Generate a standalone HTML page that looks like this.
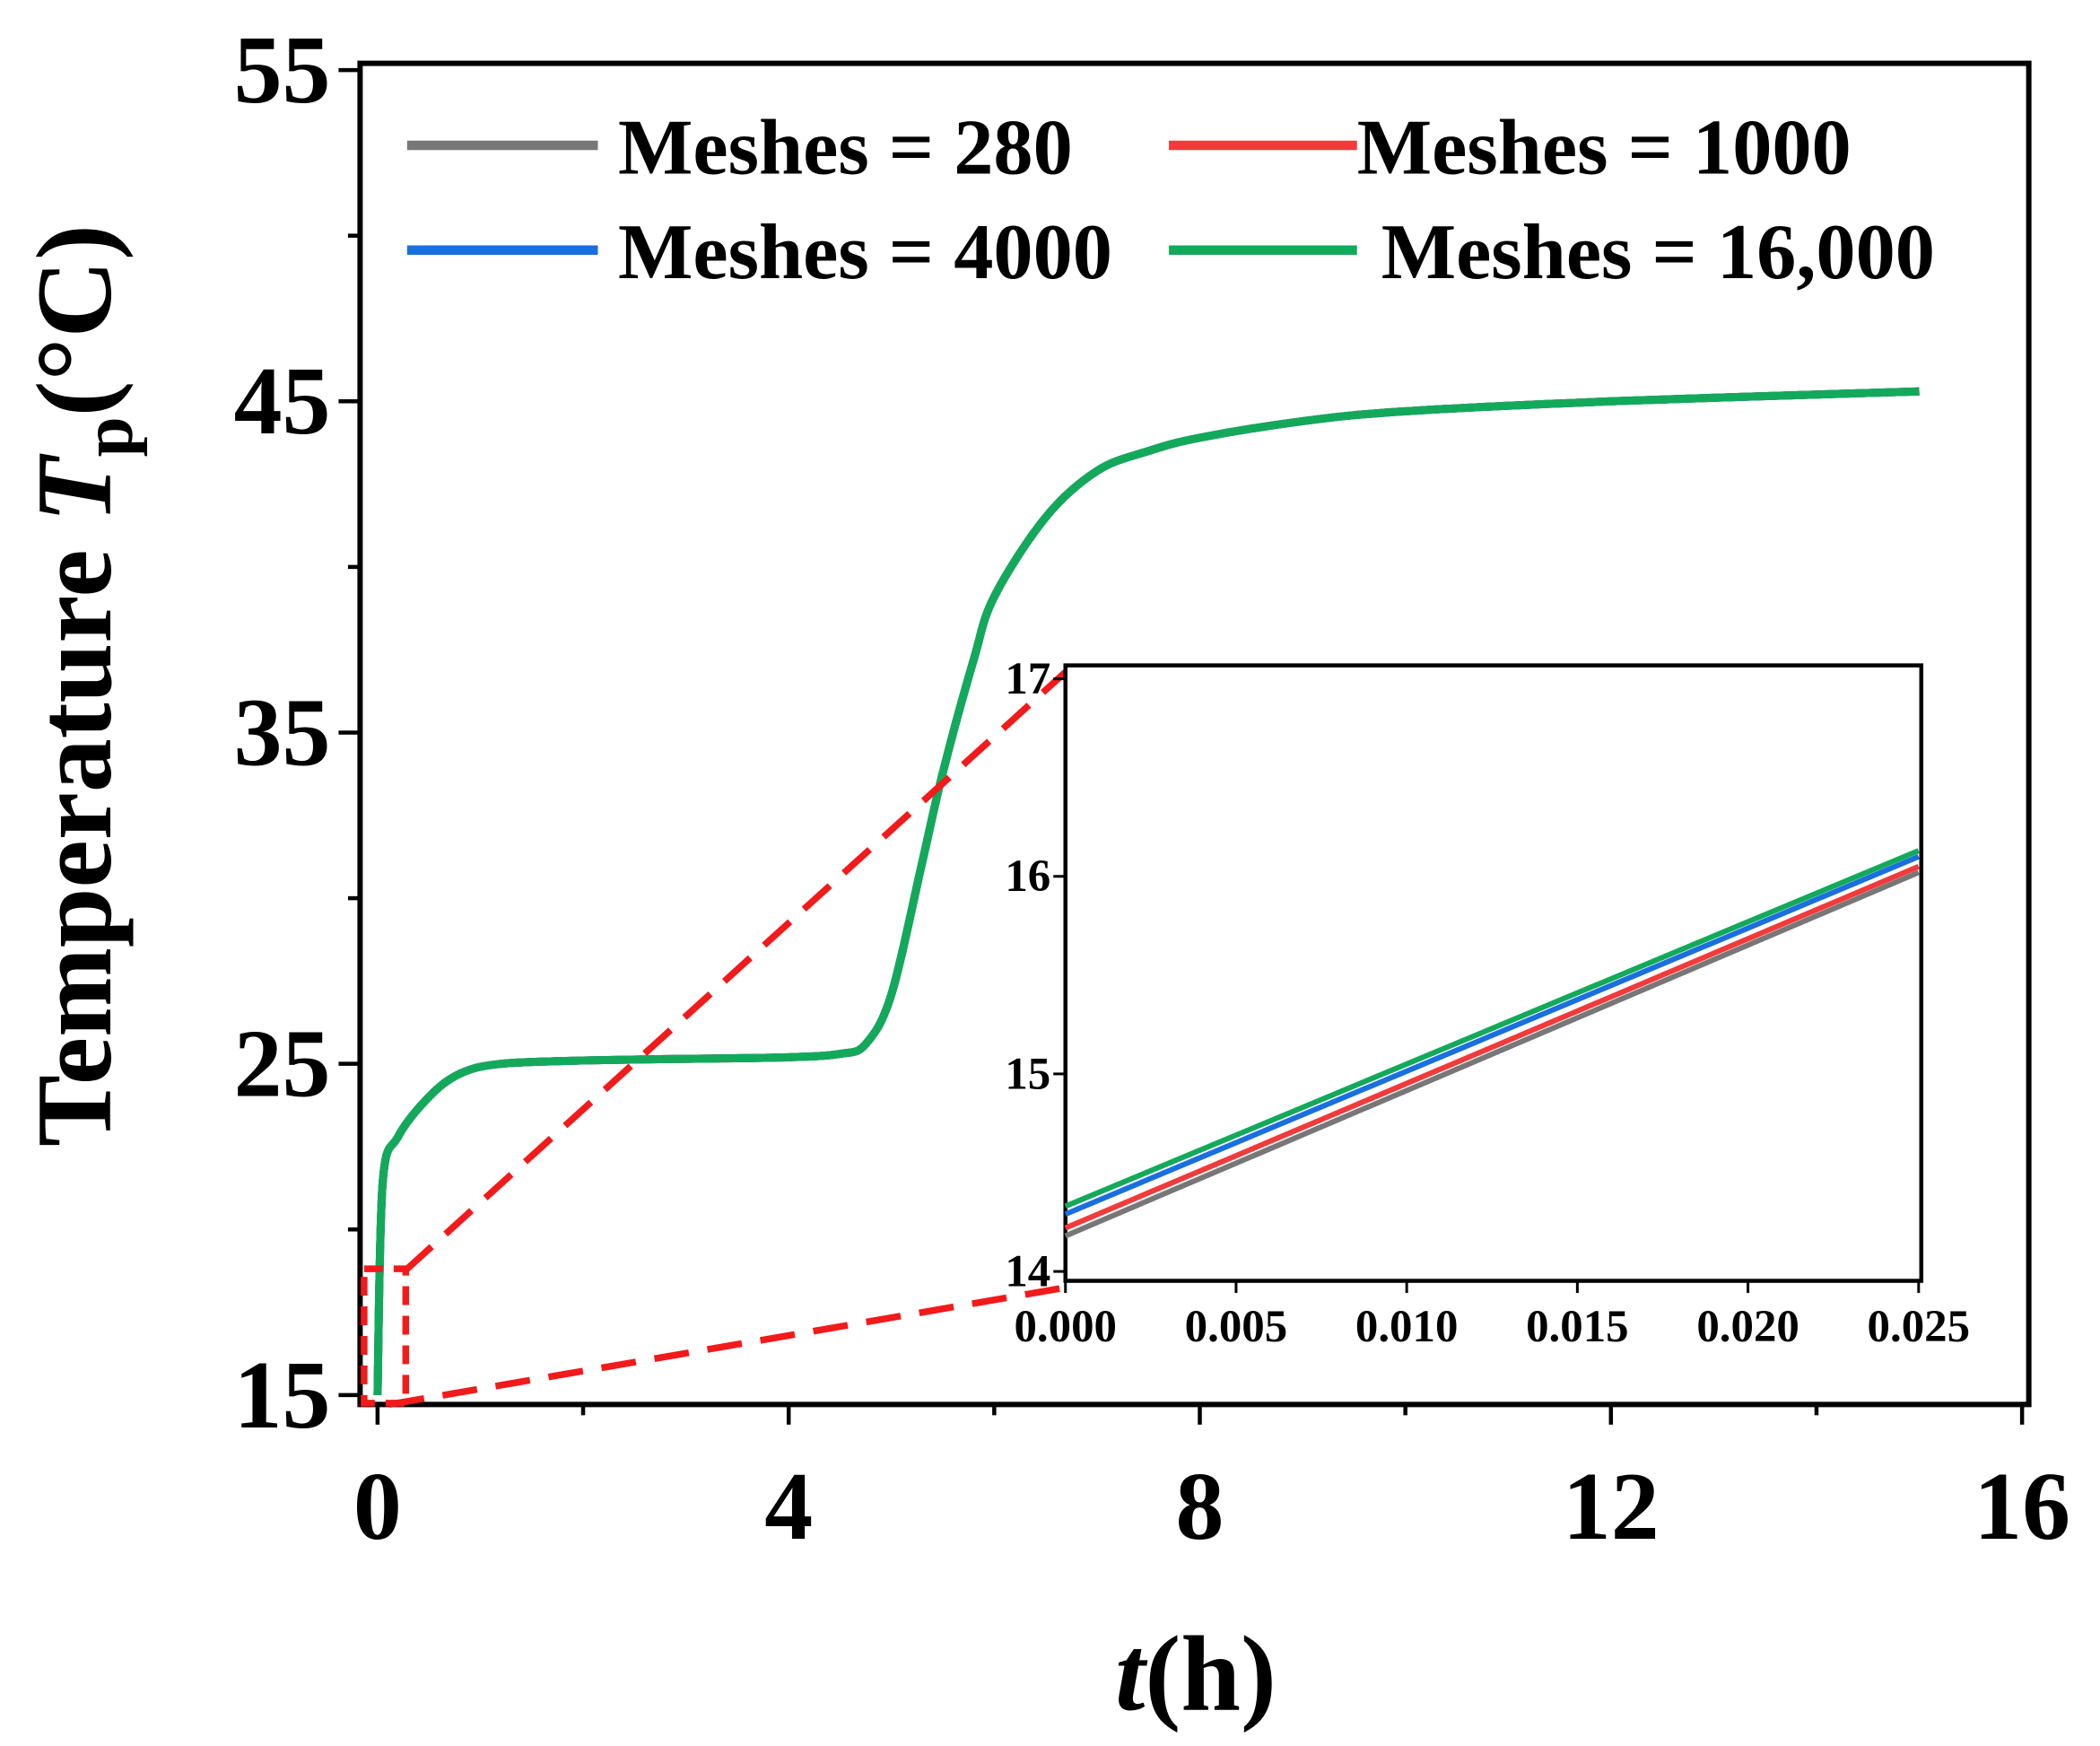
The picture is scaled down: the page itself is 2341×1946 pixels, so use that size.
<!DOCTYPE html>
<html><head><meta charset="utf-8"><style>
html,body{margin:0;padding:0;background:#fff}
svg{display:block}
text{font-family:"Liberation Serif",serif;font-weight:bold;fill:#000}
</style></head><body>
<svg id="chart" width="2341" height="1946" viewBox="0 0 1563 1299" xmlns="http://www.w3.org/2000/svg">
<rect width="1563" height="1299" fill="#fff"/>
<g id="main"></g>
<g id="inset"></g>
</svg>
<script>
const tValues=[0,0.05,0.2,0.5,0.8,1.2,2,3,4,4.5,4.75,5.0,5.3,5.5,5.8,6.0,6.5,7,7.5,8,9,10,12,15];
const tempValues=[15,21.4,22.8,24.0,24.7,25.0,25.1,25.15,25.2,25.3,25.6,27.1,31.1,33.8,37.2,39.1,41.5,42.9,43.5,43.9,44.4,44.7,45.0,45.3];
const xTicks=[0,4,8,12,16];
const yTicks=[15,25,35,45,55];
const seriesNames=["Meshes = 280","Meshes = 1000","Meshes = 4000","Meshes = 16,000"];
const seriesColors=["#777777","#f23a3a","#1a6fe0","#12aa5a"];
const insetStart=[14.18,14.22,14.29,14.33];
const insetEnd=[16.02,16.05,16.10,16.13];
const insetXTicks=["0.000","0.005","0.010","0.015","0.020","0.025"];
const insetYTicks=[14,15,16,17];

const NS="http://www.w3.org/2000/svg";
function mk(tag,attrs,parent,txt){const e=document.createElementNS(NS,tag);for(const k in attrs)e.setAttribute(k,attrs[k]);if(txt!==undefined)e.textContent=txt;parent.appendChild(e);return e;}
const X=t=>281+t*76.5;
const Y=v=>1038-(v-15)*24.65;
const main=document.getElementById('main');

let fr=mk('rect',{x:268,y:47,width:1242,height:998,fill:'none',stroke:'#000','stroke-width':4},main);


for(let v=15;v<=55;v+=5){const major=yTicks.includes(v);
 let tk=mk('line',{x1:major?252:259,x2:268,y1:Y(v),y2:Y(v),stroke:'#000','stroke-width':3},main);
 }
yTicks.forEach(v=>{let t=mk('text',{x:246,y:Y(v)+24,'text-anchor':'end','font-size':72},main,String(v));
 });
for(let v=0;v<=16;v+=2){const major=xTicks.includes(v);
 let tk=mk('line',{x1:X(v),x2:X(v),y1:1045,y2:major?1060:1053,stroke:'#000','stroke-width':3},main);
 }
xTicks.forEach(v=>{let t=mk('text',{x:X(v),y:1145,'text-anchor':'middle','font-size':72},main,String(v));
 });

let xl=mk('text',{x:890,y:1272,'text-anchor':'middle','font-size':80},main);

mk('tspan',{'font-style':'italic'},xl,'t');mk('tspan',{},xl,'(h)');
let yl=mk('text',{x:0,y:0,'text-anchor':'middle','font-size':80,transform:'translate(82,510) rotate(-90)'},main);

mk('tspan',{},yl,'Temperature ');mk('tspan',{'font-style':'italic'},yl,'T');
mk('tspan',{'font-size':54,dy:16},yl,'p');mk('tspan',{dy:-16},yl,'(°C)');

// smooth path (Catmull-Rom)
const P=tValues.map((t,i)=>[X(t),Y(tempValues[i])]);
let d='M'+P[0][0].toFixed(1)+','+P[0][1].toFixed(1);
for(let i=0;i<P.length-1;i++){const p0=P[Math.max(0,i-1)],p1=P[i],p2=P[i+1],p3=P[Math.min(P.length-1,i+2)];
 const c1=[p1[0]+(p2[0]-p0[0])/6,p1[1]+(p2[1]-p0[1])/6],c2=[p2[0]-(p3[0]-p1[0])/6,p2[1]-(p3[1]-p1[1])/6];
 d+=' C'+c1.map(n=>n.toFixed(1)).join(',')+' '+c2.map(n=>n.toFixed(1)).join(',')+' '+p2.map(n=>n.toFixed(1)).join(',');}
seriesColors.forEach((c,i)=>{let p=mk('path',{d:d,fill:'none',stroke:c,'stroke-width':6,'stroke-linejoin':'round'},main);
 });

let zb=mk('rect',{x:271,y:944,width:31,height:100,fill:'none',stroke:'#f21a1a','stroke-width':5,'stroke-dasharray':'14,8'},main);

let d1=mk('line',{x1:302,y1:945,x2:793,y2:500,stroke:'#f21a1a','stroke-width':5,'stroke-dasharray':'26,14'},main);

let d2=mk('line',{x1:290,y1:1045,x2:793,y2:958,stroke:'#f21a1a','stroke-width':5,'stroke-dasharray':'26,14'},main);


const legPos=[[303,445,460,108],[870,1010,1010,108],[303,445,460,186],[870,1010,1028,186]];
seriesNames.forEach((n,i)=>{const p=legPos[i];
 let g=mk('g',{},main);
 mk('line',{x1:p[0],x2:p[1],y1:p[3],y2:p[3],stroke:seriesColors[i],'stroke-width':7},g);
 mk('text',{x:p[2],y:p[3]+21,'font-size':59},g,n);});

const ins=document.getElementById('inset');
const IX=x=>793+x/0.025*635;
const IY=v=>946-(v-14)*147;
let ib=mk('rect',{x:793,y:495,width:637,height:458,fill:'#fff',stroke:'#000','stroke-width':3},ins);

seriesColors.forEach((c,i)=>{let l=mk('line',{x1:IX(0),y1:IY(insetStart[i]),x2:IX(0.025),y2:IY(insetEnd[i]),stroke:c,'stroke-width':4},ins);
 });
insetXTicks.forEach((s,i)=>{const x=IX(parseFloat(s));
 let tk=mk('line',{x1:x,x2:x,y1:953,y2:962,stroke:'#000','stroke-width':2},ins);
 
 let t=mk('text',{x:x,y:998,'text-anchor':'middle','font-size':34},ins,s);
 });
insetYTicks.forEach(v=>{let tk=mk('line',{x1:784,x2:793,y1:IY(v),y2:IY(v),stroke:'#000','stroke-width':2},ins);
 
 let t=mk('text',{x:782,y:IY(v)+11,'text-anchor':'end','font-size':34},ins,String(v));
 });
</script>
</body></html>
